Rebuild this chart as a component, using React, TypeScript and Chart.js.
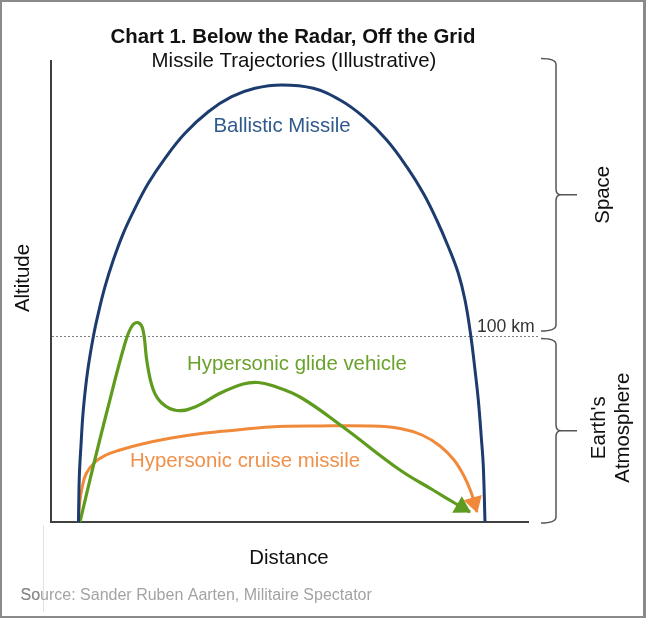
import React, { useEffect, useRef } from "react";
import { Chart, registerables } from "chart.js";

Chart.register(...registerables);

// ---- Data (distance units along x, altitude units along y; KARMAN_ALT marks 100 km) ----
const DISTANCE_MAX = 480;
const ALTITUDE_MAX = 462;
const KARMAN_ALT = 186;
const KARMAN_LABEL = "100 km";

const TITLE = "Chart 1. Below the Radar, Off the Grid";
const SUBTITLE = "Missile Trajectories (Illustrative)";
const X_LABEL = "Distance";
const Y_LABEL = "Altitude";
const ZONE_UPPER = ["Space"];
const ZONE_LOWER = ["Earth's", "Atmosphere"];
const SOURCE = "Source: Sander Ruben Aarten, Militaire Spectator";
const SERIES_NAMES = ["Ballistic Missile", "Hypersonic glide vehicle", "Hypersonic cruise missile"];

const BALLISTIC_X = [28.5, 29.3, 31, 33.3, 37.5, 43.3, 48.3, 55, 63.3, 73.3, 85, 98.3, 115, 135, 158.3, 181.7, 205, 231.5, 263.3, 290, 313.3, 336.7, 356.7, 373.3, 386.7, 398.3, 408.3, 415, 420.7, 425, 428.3, 431.5, 433.3, 435];
const BALLISTIC_Y = [0, 45, 77, 112, 150, 185.3, 208.7, 235.3, 262, 288.7, 313.7, 338.7, 363.7, 388.7, 410.3, 425.3, 433.7, 437, 433.7, 422, 405.3, 382, 355.3, 328.7, 302, 275.3, 248.7, 222, 187, 152, 122, 82, 56, 0];

const GLIDE_X = [30, 40.7, 57.3, 75, 82, 88.3, 93, 97, 103, 111.7, 126.7, 145, 170, 193.3, 208, 222, 250, 293, 350, 383, 408, 420];
const GLIDE_Y = [0, 45.3, 112, 178.7, 196, 199.3, 192, 160, 133, 119, 111.5, 115, 128.7, 138, 139.5, 136.5, 125, 95, 52, 32, 17, 10];

const CRUISE_X = [28.3, 29.5, 32, 36, 45, 56, 70, 90, 120, 153.3, 186.7, 220, 270, 320, 350, 372, 390, 404, 414, 421, 427];
const CRUISE_Y = [0, 18, 34, 48, 60, 67, 72, 77.5, 83.7, 88.7, 92, 95, 96, 96, 93.5, 87, 76, 62, 46, 30, 10];

const COLORS = {
  ballistic: "#1c3b6e",
  ballisticText: "#2f5a8e",
  glide: "#5e9b1e",
  glideText: "#6aa22c",
  cruise: "#f08a3a",
  cruiseText: "#f0904a",
  axis: "#404040",
  text: "#111111",
  brace: "#555555",
  source: "#a3a3a3",
  frame: "#8a8a8a",
};

const FONT = '"Liberation Sans", Arial, Helvetica, sans-serif';

function drawText(
  ctx: CanvasRenderingContext2D,
  s: string,
  x: number,
  y: number,
  size: number,
  color: string,
  align: CanvasTextAlign = "center",
  bold = false,
  rot = 0
) {
  ctx.save();
  ctx.font = `${bold ? "bold " : ""}${size}px ${FONT}`;
  ctx.fillStyle = color;
  ctx.textAlign = align;
  ctx.textBaseline = "alphabetic";
  ctx.translate(x, y);
  if (rot) ctx.rotate(rot);
  ctx.fillText(s, 0, 0);
  ctx.restore();
}

function drawBrace(ctx: CanvasRenderingContext2D, x0: number, xs: number, xt: number, top: number, bot: number) {
  const mid = (top + bot) / 2;
  ctx.save();
  ctx.strokeStyle = COLORS.brace;
  ctx.lineWidth = 1.5;
  ctx.beginPath();
  ctx.moveTo(x0, top);
  ctx.quadraticCurveTo(xs, top, xs, top + 6);
  ctx.lineTo(xs, mid - 6);
  ctx.quadraticCurveTo(xs, mid, xs + 5, mid);
  ctx.lineTo(xt, mid);
  ctx.moveTo(xs + 5, mid);
  ctx.quadraticCurveTo(xs, mid, xs, mid + 6);
  ctx.lineTo(xs, bot - 6);
  ctx.quadraticCurveTo(xs, bot, x0, bot);
  ctx.stroke();
  ctx.restore();
}

const decor = {
  id: "decor",
  beforeDraw(chart: any) {
    const ctx = chart.ctx as CanvasRenderingContext2D;
    ctx.save();
    ctx.fillStyle = "#ffffff";
    ctx.fillRect(0, 0, chart.width, chart.height);
    ctx.restore();
  },
  beforeDatasetsDraw(chart: any) {
    const ctx = chart.ctx as CanvasRenderingContext2D;
    const xs = chart.scales.x;
    const ys = chart.scales.y;
    const x0 = xs.getPixelForValue(0);
    const y0 = ys.getPixelForValue(0);
    const yTop = ys.getPixelForValue(ALTITUDE_MAX);
    const xEnd = xs.getPixelForValue(DISTANCE_MAX) - 1;
    const yK = ys.getPixelForValue(KARMAN_ALT);

    ctx.save();
    ctx.strokeStyle = "#808080";
    ctx.lineWidth = 1;
    ctx.setLineDash([2, 2]);
    ctx.beginPath();
    ctx.moveTo(x0 + 2, yK + 0.5);
    ctx.lineTo(540, yK + 0.5);
    ctx.stroke();
    ctx.restore();

    ctx.save();
    ctx.strokeStyle = COLORS.axis;
    ctx.lineWidth = 2;
    ctx.beginPath();
    ctx.moveTo(x0 + 1, yTop);
    ctx.lineTo(x0 + 1, y0);
    ctx.lineTo(xEnd, y0);
    ctx.stroke();
    ctx.restore();
  },
  afterDatasetsDraw(chart: any) {
    const ctx = chart.ctx as CanvasRenderingContext2D;
    const arrowColors = [null, COLORS.glide, COLORS.cruise];
    for (let i = 1; i <= 2; i++) {
      const pts = chart.getDatasetMeta(i).data;
      const n = pts.length;
      const tip = pts[n - 1];
      const prev = pts[n - 2];
      let dx = tip.x - prev.x;
      let dy = tip.y - prev.y;
      const len = Math.hypot(dx, dy) || 1;
      dx /= len;
      dy /= len;
      const L = 15;
      const W = 9.5;
      const bx = tip.x - dx * L;
      const by = tip.y - dy * L;
      ctx.save();
      ctx.fillStyle = arrowColors[i] as string;
      ctx.beginPath();
      ctx.moveTo(tip.x + dx * 1, tip.y + dy * 1);
      ctx.lineTo(bx - dy * W, by + dx * W);
      ctx.lineTo(bx + dy * W, by - dx * W);
      ctx.closePath();
      ctx.fill();
      ctx.restore();
    }
  },
  afterDraw(chart: any) {
    const ctx = chart.ctx as CanvasRenderingContext2D;
    const ys = chart.scales.y;
    const yTop = ys.getPixelForValue(ALTITUDE_MAX);
    const y0 = ys.getPixelForValue(0);
    const yK = ys.getPixelForValue(KARMAN_ALT);

    drawText(ctx, TITLE, 293, 43, 20.4, COLORS.text, "center", true);
    drawText(ctx, SUBTITLE, 294, 67, 20.4, COLORS.text, "center");

    drawText(ctx, SERIES_NAMES[0], 282, 132, 20.4, COLORS.ballisticText, "center");
    drawText(ctx, SERIES_NAMES[1], 187, 370, 20.4, COLORS.glideText, "left");
    drawText(ctx, SERIES_NAMES[2], 130, 466.5, 20.4, COLORS.cruiseText, "left");

    drawText(ctx, KARMAN_LABEL, 477, yK - 4, 17.6, "#333333", "left");

    drawText(ctx, X_LABEL, 289, 564, 20.4, COLORS.text, "center");
    drawText(ctx, Y_LABEL, 28.5, 278, 20.4, COLORS.text, "center", false, -Math.PI / 2);

    drawBrace(ctx, 541, 556, 577, yTop - 1.5, yK - 5);
    drawBrace(ctx, 541, 556, 577, yK + 2.5, y0 + 1);

    drawText(ctx, ZONE_UPPER[0], 609, ((yTop - 1.5) + (yK - 5)) / 2, 20.4, COLORS.text, "center", false, -Math.PI / 2);
    const lowMid = ((yK + 2.5) + (y0 + 1)) / 2;
    drawText(ctx, ZONE_LOWER[0], 605, lowMid - 3, 20.4, COLORS.text, "center", false, -Math.PI / 2);
    drawText(ctx, ZONE_LOWER[1], 629, lowMid - 3, 20.4, COLORS.text, "center", false, -Math.PI / 2);

    ctx.save();
    ctx.strokeStyle = "#e2e2e2";
    ctx.lineWidth = 1;
    ctx.beginPath();
    ctx.moveTo(43.5, 525);
    ctx.lineTo(43.5, 612);
    ctx.stroke();
    ctx.restore();
    drawText(ctx, SOURCE, 20.5, 600, 16, COLORS.source, "left");
    drawText(ctx, SOURCE.slice(0, 2), 20.5, 600, 16, "#8a8a8a", "left");

    ctx.save();
    ctx.fillStyle = COLORS.frame;
    ctx.fillRect(0, 0, 646, 2);
    ctx.fillRect(0, 616, 646, 2);
    ctx.fillRect(0, 0, 2, 618);
    ctx.fillRect(643, 0, 3, 618);
    ctx.restore();
  },
};

function toPoints(xs: number[], ys: number[]) {
  return xs.map((x, i) => ({ x, y: ys[i] }));
}

export default function App() {
  const ref = useRef<HTMLCanvasElement>(null);
  useEffect(() => {
    if (!ref.current) return;
    const common = {
      showLine: true,
      pointRadius: 0,
      pointHoverRadius: 0,
      tension: 0.4,
      clip: false as const,
      fill: false,
    };
    const chart = new Chart(ref.current, {
      type: "scatter",
      data: {
        datasets: [
          { ...common, label: SERIES_NAMES[0], data: toPoints(BALLISTIC_X, BALLISTIC_Y), borderColor: COLORS.ballistic, borderWidth: 3 },
          { ...common, label: SERIES_NAMES[1], data: toPoints(GLIDE_X, GLIDE_Y), borderColor: COLORS.glide, borderWidth: 3.2 },
          { ...common, label: SERIES_NAMES[2], data: toPoints(CRUISE_X, CRUISE_Y), borderColor: COLORS.cruise, borderWidth: 3 },
        ],
      },
      options: {
        responsive: false,
        animation: false,
        devicePixelRatio: 1,
        events: [],
        layout: { padding: { left: 50, right: 116, top: 60, bottom: 96 } },
        scales: {
          x: { type: "linear", min: 0, max: DISTANCE_MAX, display: false },
          y: { type: "linear", min: 0, max: ALTITUDE_MAX, display: false },
        },
        plugins: {
          legend: { display: false },
          tooltip: { enabled: false },
          title: { display: false },
        },
      },
      plugins: [decor],
    });
    return () => chart.destroy();
  }, []);
  return (
    <div style={{ position: "absolute", left: 0, top: 0, width: 646, height: 618 }}>
      <canvas ref={ref} width={646} height={618} style={{ display: "block", width: 646, height: 618 }} />
    </div>
  );
}
